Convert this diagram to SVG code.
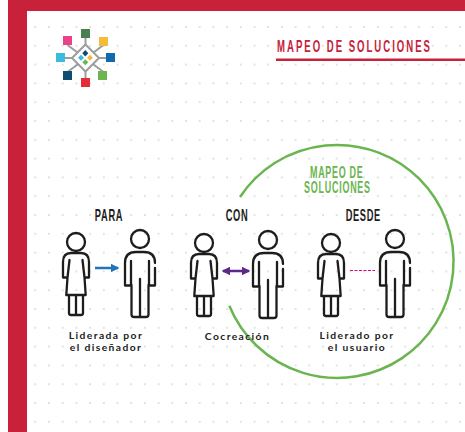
<svg xmlns="http://www.w3.org/2000/svg" width="465" height="432" viewBox="0 0 465 432">
<style>
.fig{fill:none;stroke:#1d1d1b;stroke-width:2.300;stroke-linecap:round;stroke-linejoin:round}
.head{font-family:"Liberation Sans",sans-serif;font-weight:700;font-size:16px;fill:#1d1d1b}
.grn{fill:#6ab550}
.lab{font-family:Lato,"Liberation Sans",sans-serif;font-weight:700;font-size:10.300px;fill:#222;letter-spacing:1.400px;text-anchor:middle}
.tie{stroke:#9d9d9c;stroke-width:2;fill:none}
</style>
<defs>
<pattern id="dots" x="49" y="27" width="13.7" height="18.8" patternUnits="userSpaceOnUse"><rect x="-1" y="-1" width="2" height="2" fill="#e2e2e2"/><rect x="12.7" y="-1" width="2" height="2" fill="#e2e2e2"/><rect x="-1" y="17.8" width="2" height="2" fill="#e2e2e2"/><rect x="12.7" y="17.8" width="2" height="2" fill="#e2e2e2"/></pattern>
<g id="woman" class="fig"><circle cx="0" cy="0" r="9"/><path d="M-8.500 35.500H-13V20Q-13 11-5 11H5Q13 11 13 20V35.500H8.500L6.500 18M-8.500 35.500L-6.500 18M-8.500 35.500L-9.700 53H9.700L8.500 35.500M-7 53V71Q-7 73-5 73H5Q7 73 7 71V53M0 53V72"/></g>
<g id="man" class="fig"><circle cx="0" cy="0" r="9"/><path d="M-9 46.500H-15V24Q-15 13-4 13H4Q15 13 15 24M15 29V46.500H9V22M-9 46.500V22M-8.500 46V75.500Q-8.500 78-6 78H6Q8.500 78 8.500 75.500V46M0 40V77"/></g>
<marker id="ah" viewBox="0 0 6 6" refX="5" refY="3" markerWidth="3.500" markerHeight="3.500" orient="auto-start-reverse" markerUnits="strokeWidth"><path d="M0 0L6 3L0 6Z" fill="context-stroke"/></marker>
</defs>
<rect width="465" height="432" fill="#fff"/>
<rect x="27" y="11" width="438" height="421" fill="url(#dots)"/>
<rect x="8" y="0" width="19" height="432" fill="#c8213a"/>
<rect x="8" y="0" width="457" height="11" fill="#c8213a"/>
<g id="logo">
<path class="tie" d="M85.500 38V78M67.500 45L103.500 72M103.500 45L67.500 72M65 58H106"/>
<path d="M85.500 44.500L99 58L85.500 71.500L72 58Z" fill="#fff" stroke="#9d9d9c" stroke-width="2"/>
<rect x="81" y="29" width="9" height="9" fill="#4a8050"/>
<rect x="63" y="36" width="9" height="9" fill="#ea4389"/>
<rect x="99" y="37" width="9" height="9" fill="#f5bc3a"/>
<rect x="56" y="53" width="9" height="9" fill="#3cbbe0"/>
<rect x="106" y="53" width="9" height="9" fill="#106ab0"/>
<rect x="63" y="71" width="9" height="9" fill="#0f4c72"/>
<rect x="98" y="71" width="9" height="9" fill="#6ab550"/>
<rect x="81" y="78" width="9" height="9" fill="#e52d3a"/>
<path d="M85.300 50L88.300 53.300L85.300 56.500L82.300 53.300Z" fill="#0f4c72"/>
<path d="M81 54.700L84 57.700L81 60.700L78 57.700Z" fill="#3cbbe0"/>
<path d="M90 54.700L93 57.700L90 60.700L87 57.700Z" fill="#f5bc3a"/>
<path d="M85.300 59.300L88.300 62.300L85.300 65.300L82.300 62.300Z" fill="#6ab550"/>
</g>
<g id="title">
<text transform="translate(277 52) scale(.6 1)" textLength="255" lengthAdjust="spacing" style="font-family:'Liberation Sans',sans-serif;font-weight:700;font-size:16px;fill:#c8213a">MAPEO DE SOLUCIONES</text>
<rect x="276" y="58.500" width="189" height="2.500" fill="#c8213a"/>
</g>
<g id="zone">
<path d="M240 197A116.500 116.500 0 1 1 229.300 305.700" fill="none" stroke="#6ab550" stroke-width="2.500"/>
<text class="head grn" transform="translate(310 177.700) scale(.56 1)" textLength="94" lengthAdjust="spacing">MAPEO DE</text>
<text class="head grn" transform="translate(304 192.700) scale(.56 1)" textLength="118" lengthAdjust="spacing">SOLUCIONES</text>
</g>
<g id="connectors" fill="none" stroke-width="2.500">
<path d="M95 268H118" stroke="#1f74bb" marker-end="url(#ah)"/>
<path d="M223 271H249" stroke="#5b2a86" marker-start="url(#ah)" marker-end="url(#ah)"/>
<path d="M350 270.500H375" stroke="#e6007e" stroke-width="1.200" stroke-dasharray="3 1.500"/>
</g>
<g id="para">
<text class="head" transform="translate(94.700 220.700) scale(.58 1)" textLength="48" lengthAdjust="spacing">PARA</text>
<use href="#woman" x="76" y="242"/>
<use href="#man" x="140" y="239"/>
<text class="lab" x="106" y="339">Liderada por</text>
<text class="lab" x="106" y="351">el diseñador</text>
</g>
<g id="con">
<text class="head" transform="translate(225.700 220.700) scale(.58 1)" textLength="38" lengthAdjust="spacing">CON</text>
<use href="#woman" x="204" y="243"/>
<use href="#man" x="268" y="240"/>
<text class="lab" x="237.500" y="339.500">Cocreación</text>
</g>
<g id="desde">
<text class="head" transform="translate(345.700 220.700) scale(.58 1)" textLength="59.500" lengthAdjust="spacing">DESDE</text>
<use href="#woman" x="331" y="243"/>
<use href="#man" x="395" y="239"/>
<text class="lab" x="357" y="338.500">Liderado por</text>
<text class="lab" x="357" y="351">el usuario</text>
</g>
</svg>
